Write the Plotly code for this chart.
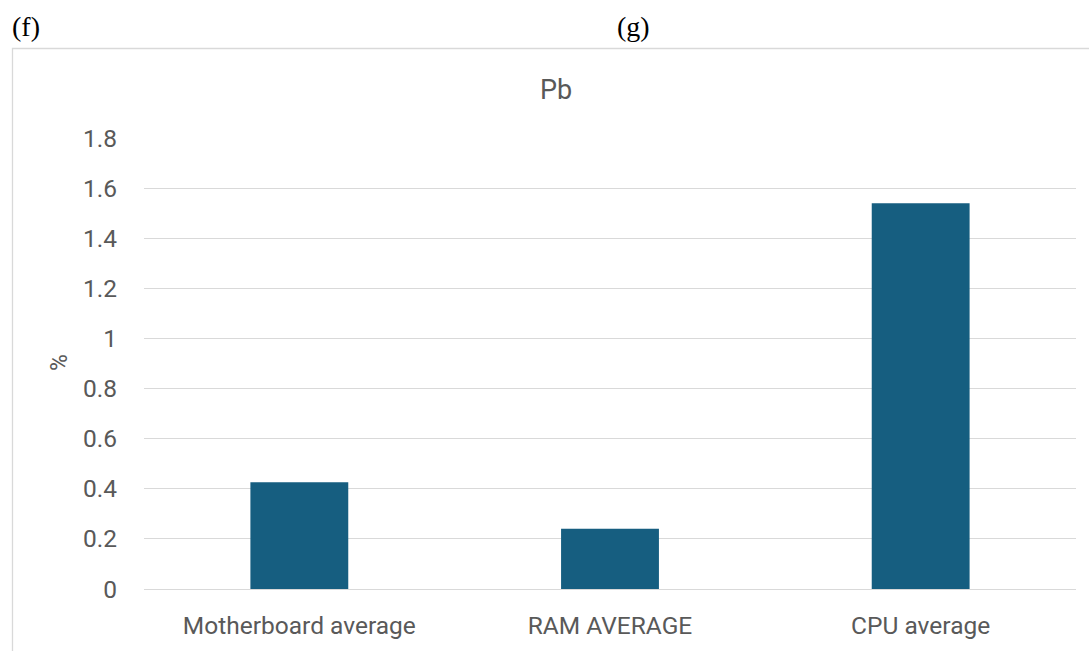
import plotly.graph_objects as go

categories = ["Motherboard average", "RAM AVERAGE", "CPU average"]
values = [0.426, 0.24, 1.54]
y_ticks = [0, 0.2, 0.4, 0.6, 0.8, 1, 1.2, 1.4, 1.6, 1.8]
y_tick_labels = ["0", "0.2", "0.4", "0.6", "0.8", "1", "1.2", "1.4", "1.6", "1.8"]

bar_color = "#165E80"
text_color = "#595959"
grid_color = "#D9D9D9"
font_family = "Roboto, 'Open Sans', sans-serif"

fig = go.Figure(
    go.Bar(x=categories, y=values, marker=dict(color=bar_color, line=dict(width=0)))
)

W, H = 1089, 651
L, R, T, B = 144, 13, 138, 62
PW, PH = W - L - R, H - T - B

fig.update_layout(
    width=W,
    height=H,
    margin=dict(l=L, r=R, t=T, b=B, autoexpand=False),
    paper_bgcolor="white",
    plot_bgcolor="white",
    bargap=0.685,
    showlegend=False,
    font=dict(family=font_family, color=text_color, size=24),
    title=dict(
        text="Pb",
        x=556 / W,
        xref="container",
        xanchor="center",
        y=1 - 90 / H,
        yref="container",
        yanchor="middle",
        font=dict(family=font_family, size=27, color=text_color),
    ),
)

fig.update_xaxes(
    showgrid=False,
    showline=False,
    ticks="",
    tickfont=dict(family=font_family, size=24.5, color=text_color),
    ticklabelstandoff=19,
)
fig.update_yaxes(
    range=[0, 1.8],
    tickmode="array",
    tickvals=y_ticks,
    ticktext=y_tick_labels,
    showgrid=True,
    gridcolor=grid_color,
    gridwidth=1.3,
    zeroline=True,
    zerolinecolor=grid_color,
    zerolinewidth=1.3,
    showline=False,
    ticks="",
    ticklabelstandoff=26,
    tickfont=dict(family=font_family, size=24.5, color=text_color),
)

# outer chart border (extends past right/bottom edges of the page)
fig.add_shape(
    type="rect",
    xref="paper", yref="paper",
    x0=(12.5 - L) / PW,
    x1=(W + 20 - L) / PW,
    y0=-(B + 20) / PH,
    y1=1 + (T - 48.5) / PH,
    line=dict(color="#D9D9D9", width=1.3),
    fillcolor="rgba(0,0,0,0)",
    layer="below",
)

# panel labels
fig.add_annotation(
    text="(f)", xref="paper", yref="paper",
    x=(10 - L) / PW, y=1 + (T - 26) / PH,
    xanchor="left", yanchor="middle", showarrow=False,
    font=dict(family="Liberation Serif, serif", size=28, color="black"),
)
fig.add_annotation(
    text="(g)", xref="paper", yref="paper",
    x=(633 - L) / PW, y=1 + (T - 26) / PH,
    xanchor="center", yanchor="middle", showarrow=False,
    font=dict(family="Liberation Serif, serif", size=28, color="black"),
)
# y-axis title
fig.add_annotation(
    text="%", xref="paper", yref="paper",
    x=(59 - L) / PW, y=1 - (363 - T) / PH,
    xanchor="center", yanchor="middle", showarrow=False, textangle=-90,
    font=dict(family=font_family, size=23, color=text_color),
)

fig.write_html(
    "out.html",
    config={"displayModeBar": False},
    post_script="document.body.style.margin='0';document.body.style.overflow='hidden';",
)
